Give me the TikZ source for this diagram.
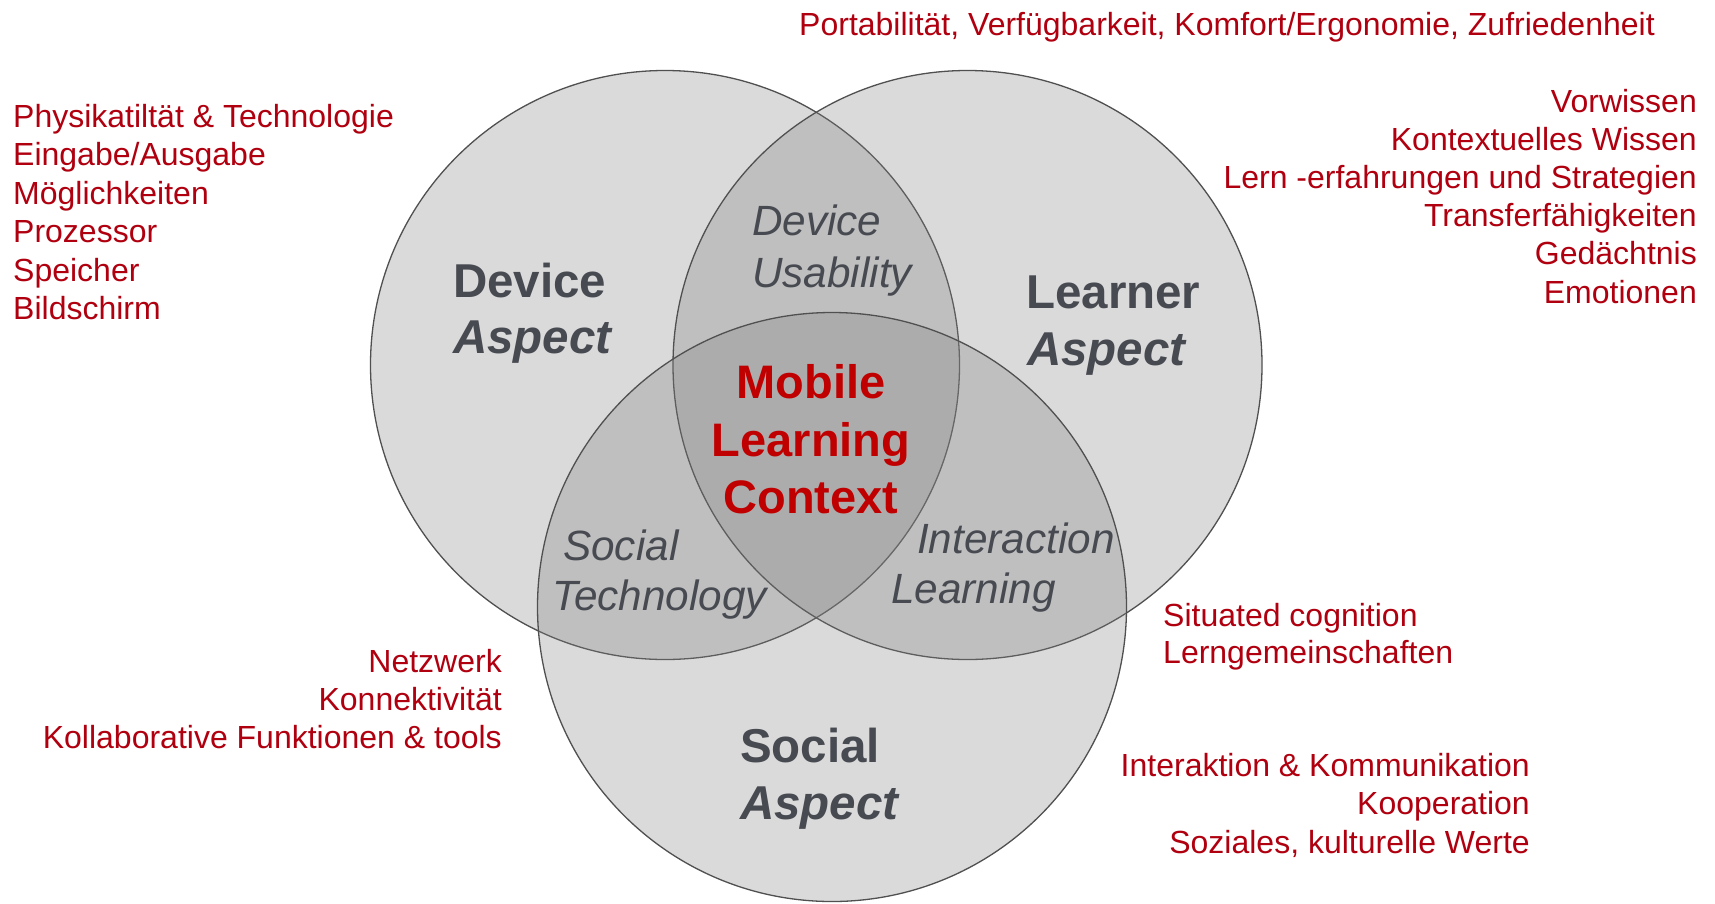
\documentclass[tikz,border=0pt]{standalone}
\usepackage{fontspec}
\setmainfont{Liberation Sans}
\definecolor{listred}{HTML}{B00010}
\definecolor{mainred}{HTML}{C00000}
\definecolor{labgray}{HTML}{474A51}
\definecolor{ringgray}{HTML}{505050}
\begin{document}
\begin{tikzpicture}[x=1pt,y=-1pt,
  ring/.style={circle, draw=ringgray, line width=1.3pt, fill=black!50, fill opacity=0.29, draw opacity=1, minimum size=589pt, inner sep=0pt, outer sep=0pt},
  listtxt/.style={inner sep=0pt, text=listred, font=\fontsize{32}{38.5}\selectfont},
  aspbold/.style={inner sep=0pt, text=labgray, font=\fontsize{47.5}{56}\selectfont\bfseries},
  aspital/.style={inner sep=0pt, text=labgray, font=\fontsize{47.5}{56}\selectfont\bfseries\itshape},
  overlap/.style={inner sep=0pt, text=labgray, font=\fontsize{42.3}{50}\selectfont\itshape},
  centre/.style={inner sep=0pt, text=mainred, font=\fontsize{47}{57}\selectfont\bfseries, anchor=base}]
\fill[white] (0,0) rectangle (1715,903);
\useasboundingbox (0,0) rectangle (1715,903);
% circles
\node[ring] (dev) at (665,365) {};
\node[ring] (lea) at (967.5,365) {};
\node[ring] (soc) at (832,607) {};
% aspect labels
\node[aspbold, anchor=base west] (devA) at (453,297) {Device};
\node[aspital, anchor=base west] (devB) at (453,353) {Aspect};
\node[aspbold, anchor=base west] (leaA) at (1026,308) {Learner};
\node[aspital, anchor=base west] (leaB) at (1027,365) {Aspect};
\node[aspbold, anchor=base west] (socA) at (740,762) {Social};
\node[aspital, anchor=base west] (socB) at (740,819) {Aspect};
% overlaps
\node[overlap, anchor=base west] (duA) at (752,235) {Device};
\node[overlap, anchor=base west] (duB) at (752,287) {Usability};
\node[overlap, anchor=base west] (stA) at (563,560) {Social};
\node[overlap, anchor=base west] (stB) at (552,610) {Technology};
\node[overlap, anchor=base west] (ilA) at (917,553) {Interaction};
\node[overlap, anchor=base west] (ilB) at (891,603) {Learning};
% centre
\node[centre] (mA) at (811,398) {Mobile};
\node[centre] (mB) at (811,456) {Learning};
\node[centre] (mC) at (811,513) {Context};
% top
\node[listtxt, anchor=base west] (top) at (799,35) {Portabilität, Verfügbarkeit, Komfort/Ergonomie, Zufriedenheit};
% left list
\node[listtxt, anchor=base west] (l1) at (13,127) {Physikatiltät \& Technologie};
\node[listtxt, anchor=base west] (l2) at (13,165.5) {Eingabe/Ausgabe};
\node[listtxt, anchor=base west] (l3) at (13,204) {Möglichkeiten};
\node[listtxt, anchor=base west] (l4) at (13,242.5) {Prozessor};
\node[listtxt, anchor=base west] (l5) at (13,281) {Speicher};
\node[listtxt, anchor=base west] (l6) at (13,319.5) {Bildschirm};
% right list
\node[listtxt, anchor=base east] (r1) at (1697,112) {Vorwissen};
\node[listtxt, anchor=base east] (r2) at (1697,150.2) {Kontextuelles Wissen};
\node[listtxt, anchor=base east] (r3) at (1697,188.4) {Lern -erfahrungen und Strategien};
\node[listtxt, anchor=base east] (r4) at (1697,226.6) {Transferfähigkeiten};
\node[listtxt, anchor=base east] (r5) at (1697,264.8) {Gedächtnis};
\node[listtxt, anchor=base east] (r6) at (1697,303) {Emotionen};
% bottom left list
\node[listtxt, anchor=base east] (b1) at (502,672) {Netzwerk};
\node[listtxt, anchor=base east] (b2) at (502,710) {Konnektivität};
\node[listtxt, anchor=base east] (b3) at (502,748) {Kollaborative Funktionen \& tools};
% situated
\node[listtxt, anchor=base west] (s1) at (1163,626) {Situated cognition};
\node[listtxt, anchor=base west] (s2) at (1163,663.5) {Lerngemeinschaften};
% bottom right list
\node[listtxt, anchor=base east] (k1) at (1530,776) {Interaktion \& Kommunikation};
\node[listtxt, anchor=base east] (k2) at (1530,814.5) {Kooperation};
\node[listtxt, anchor=base east] (k3) at (1530,853) {Soziales, kulturelle Werte};
\end{tikzpicture}
\end{document}
